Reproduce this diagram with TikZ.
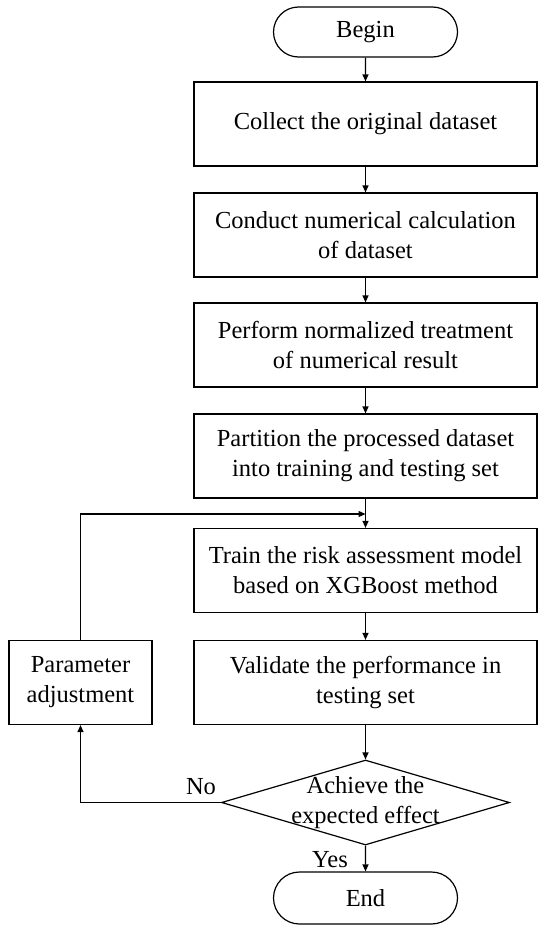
\documentclass[tikz,border=0pt]{standalone}
\usepackage{fontspec}
\setmainfont{Liberation Serif}
\usetikzlibrary{shapes.geometric,shapes.misc,arrows.meta}
\begin{document}
\begin{tikzpicture}[x=1pt,y=-1pt,
  every node/.style={font=\fontsize{24.5}{30}\selectfont, text=black},
  box/.style={draw, line width=1.2pt, minimum width=343pt, minimum height=84pt, align=center, inner sep=0pt},
  term/.style={draw, line width=1.2pt, rounded rectangle, minimum width=184pt, minimum height=50pt, inner sep=0pt},
  arr/.style={-{Triangle[length=7pt,width=6pt]}, line width=1.2pt},
]
\useasboundingbox (0,0) rectangle (550,926);
\node[term] (begin) at (365.5,32) {Begin};
\node[box] (collect) at (365.5,124) {Collect the original dataset};
\node[box] (conduct) at (365.5,235) {Conduct numerical calculation\\of dataset};
\node[box] (perform) at (365.5,345) {Perform normalized treatment\\of numerical result};
\node[box] (partition) at (365.5,456) {Partition the processed dataset\\into training and testing set};
\node[box] (train) at (365.5,570.5) {Train the risk assessment model\\based on XGBoost method};
\node[box] (validate) at (365.5,682.5) {Validate the performance in\\testing set};
\node[box, minimum width=143pt] (param) at (80.5,682.5) {Parameter\\adjustment};
\node[draw, line width=1.2pt, diamond, aspect=3.4, minimum width=288pt, minimum height=85pt, inner sep=0pt] (decision) at (365.5,802.5) {};
\node[align=center, inner sep=0pt] (dtext) at (365.5,802.5) {Achieve the\\expected effect};
\node[term, minimum height=52pt] (end) at (365.5,898) {End};
\coordinate (join) at (365.5,514);

\draw[arr] (begin) -- (collect);
\draw[arr] (collect) -- (conduct);
\draw[arr] (conduct) -- (perform);
\draw[arr] (perform) -- (partition);
\draw[arr] (partition) -- (train);
\draw[arr] (train) -- (validate);
\draw[arr] (validate) -- (decision);
\draw[arr] (decision) -- (end);
\draw[arr] (decision.west) -| (param.south);
\draw[arr] (param.north) |- (join);
\node (no) at (201,787) {No};
\node (yes) at (330,860) {Yes};
\end{tikzpicture}
\end{document}
